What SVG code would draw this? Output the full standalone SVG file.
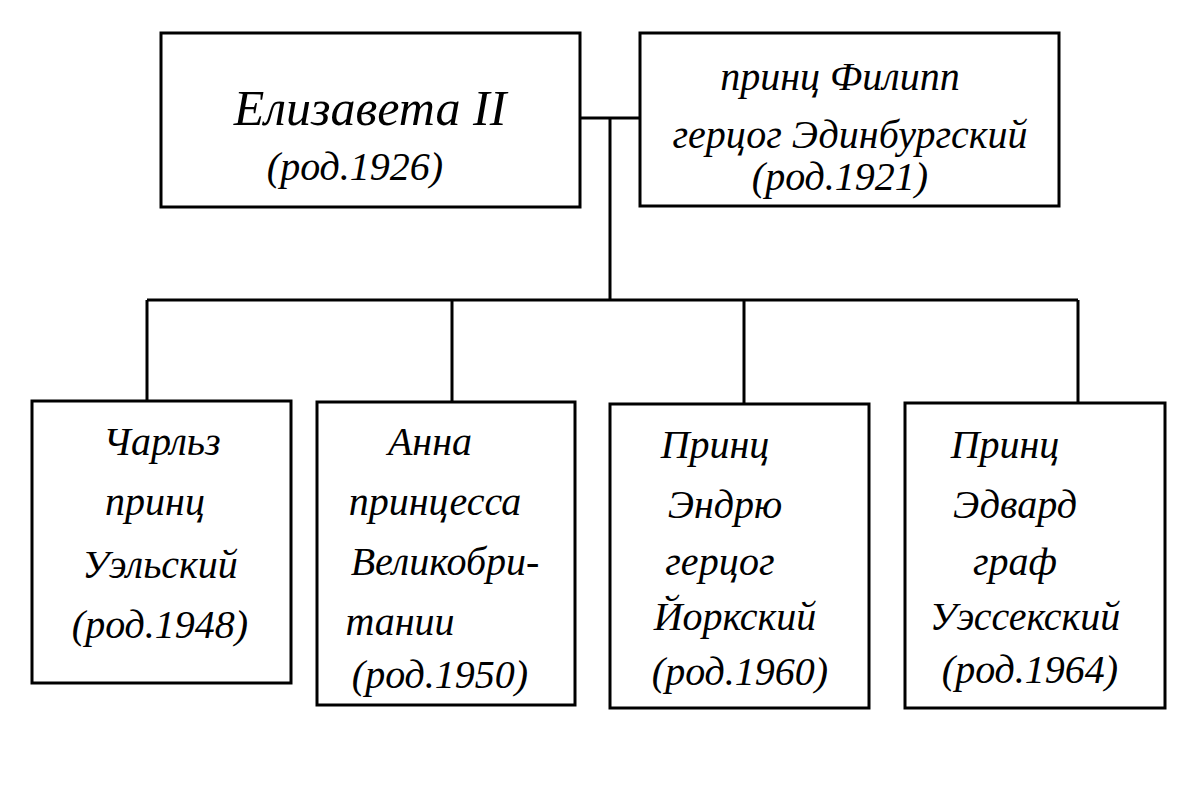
<svg xmlns="http://www.w3.org/2000/svg" width="1200" height="800" viewBox="0 0 1200 800">
<style>
.b{fill:#fff;stroke:#000;stroke-width:3}
.c{fill:none;stroke:#000;stroke-width:3}
text{font-family:"Liberation Serif",serif;font-style:italic;font-size:40px;fill:#000;text-anchor:middle}
</style>
<rect width="1200" height="800" fill="#fff"/>
<g id="connectors">
<path class="c" d="M580 118H640M610 118V300M147 300H1078M147 300V401M452 300V402M744 300V404M1078 300V403"/>
</g>
<g id="elizabeth"><rect class="b" x="161" y="33" width="419" height="174"/>
<text x="370" y="125" style="font-size:50px">Елизавета II</text><text x="355" y="180">(род.1926)</text></g>
<g id="philip"><rect class="b" x="640" y="33" width="419" height="173"/>
<text x="840" y="90">принц Филипп</text><text x="850" y="148">герцог Эдинбургский</text><text x="840" y="190">(род.1921)</text></g>
<g id="charles"><rect class="b" x="32" y="401" width="259" height="282"/>
<text x="162" y="455">Чарльз</text><text x="155" y="515">принц</text><text x="160" y="578">Уэльский</text><text x="160" y="638">(род.1948)</text></g>
<g id="anne"><rect class="b" x="317" y="402" width="258" height="303"/>
<text x="430" y="455">Анна</text><text x="435" y="515">принцесса</text><text x="445" y="575">Великобри-</text><text x="400" y="635">тании</text><text x="440" y="688">(род.1950)</text></g>
<g id="andrew"><rect class="b" x="610" y="404" width="259" height="304"/>
<text x="715" y="458">Принц</text><text x="725" y="518">Эндрю</text><text x="720" y="575">герцог</text><text x="735" y="630">Йоркский</text><text x="740" y="685">(род.1960)</text></g>
<g id="edward"><rect class="b" x="905" y="403" width="260" height="305"/>
<text x="1005" y="458">Принц</text><text x="1015" y="518">Эдвард</text><text x="1015" y="575">граф</text><text x="1025" y="630">Уэссекский</text><text x="1030" y="683">(род.1964)</text></g>
</svg>
